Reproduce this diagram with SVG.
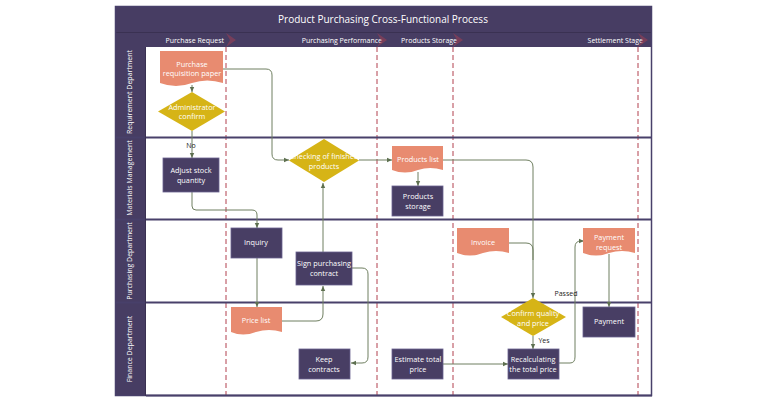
<svg xmlns="http://www.w3.org/2000/svg" width="780" height="407" viewBox="0 0 780 407">
<defs>
<style>
.t{font-family:"Open Sans","DejaVu Sans",sans-serif;fill:#fff;font-size:7.3px;text-anchor:middle}
.h{font-family:"Open Sans","DejaVu Sans",sans-serif;fill:#fff;font-size:7px;text-anchor:end}
.lane{font-family:"Open Sans","DejaVu Sans",sans-serif;fill:#fff;font-size:7px;text-anchor:middle}
.lbl{font-family:"Open Sans","DejaVu Sans",sans-serif;fill:#222;font-size:7px;text-anchor:middle}
.box{fill:#483E64;stroke:#6A6190;stroke-width:0.8}
.doc{fill:#E88B70}
.dia{fill:#D6B416}
.dash{stroke:#B2404F;stroke-width:1;stroke-dasharray:5,3;fill:none}
.ln{stroke:#48406A;stroke-width:2;fill:none}
.c{stroke:#6F7F60;stroke-width:1;fill:none}
.chev{fill:#B2404F;opacity:0.45}
</style>
<marker id="a" markerWidth="6" markerHeight="6" refX="5" refY="3" orient="auto" markerUnits="userSpaceOnUse">
<path d="M0,0.8 L5,3 L0,5.2 Z" fill="#5E7050"/>
</marker>
</defs>
<rect width="780" height="407" fill="#fff"/>
<g id="frame">
<rect x="115" y="6" width="537" height="41" fill="#473D63"/>
<line x1="115" y1="32.5" x2="652" y2="32.5" stroke="#3A3152" stroke-width="1"/>
<rect x="115" y="47" width="31" height="349" fill="#473D63"/>
<rect x="115.5" y="6.5" width="536" height="389" fill="none" stroke="#48406A" stroke-width="1.5"/>
<text x="383" y="23" font-family="'Open Sans','DejaVu Sans',sans-serif" font-size="10" fill="#fff" text-anchor="middle">Product Purchasing Cross-Functional Process</text>
<text class="h" x="224" y="43">Purchase Request</text>
<text class="h" x="382" y="43">Purchasing Performance</text>
<text class="h" x="457" y="43">Products Storage</text>
<text class="h" x="643" y="43">Settlement Stage</text>
<polygon class="chev" points="226,33 236,40 226,47 230,40"/>
<polygon class="chev" points="377,33 387,40 377,47 381,40"/>
<polygon class="chev" points="453,33 463,40 453,47 457,40"/>
<polygon class="chev" points="638,33 648,40 638,47 642,40"/>
<line class="dash" x1="226" y1="47" x2="226" y2="396"/>
<line class="dash" x1="377" y1="47" x2="377" y2="396"/>
<line class="dash" x1="453" y1="47" x2="453" y2="396"/>
<line class="dash" x1="638" y1="47" x2="638" y2="396"/>
<line class="ln" x1="115" y1="137.5" x2="652" y2="137.5"/>
<line class="ln" x1="115" y1="219.5" x2="652" y2="219.5"/>
<line class="ln" x1="115" y1="302.5" x2="652" y2="302.5"/>
<line class="ln" x1="146" y1="395.5" x2="652" y2="395.5"/>
<line x1="145.5" y1="47" x2="145.5" y2="396" stroke="#3A3152" stroke-width="1"/>
<text class="lane" transform="translate(132,92) rotate(-90)">Requirement Department</text>
<text class="lane" transform="translate(132,178) rotate(-90)">Materials Management</text>
<text class="lane" transform="translate(132,261) rotate(-90)">Purchasing Department</text>
<text class="lane" transform="translate(132,349) rotate(-90)">Finance Department</text>
</g>
<g id="connectors">
<path class="c" d="M192,85 V92" marker-end="url(#a)"/>
<path class="c" d="M192,131 V158" marker-end="url(#a)"/>
<path class="c" d="M192,192 V206 Q192,210 196,210 H252 Q257,210 257,215 V228" marker-end="url(#a)"/>
<path class="c" d="M257,258 V307" marker-end="url(#a)"/>
<path class="c" d="M282,321 H316 Q323,321 323,314 V286" marker-end="url(#a)"/>
<path class="c" d="M323,252 V183" marker-end="url(#a)"/>
<path class="c" d="M352,268 H362 Q368,268 368,274 V357 Q368,363 362,363 H351" marker-end="url(#a)"/>
<path class="c" d="M223,69 H266 Q272,69 272,75 V154 Q272,160 278,160 H289" marker-end="url(#a)"/>
<path class="c" d="M359,160 H392" marker-end="url(#a)"/>
<path class="c" d="M418,172 V186" marker-end="url(#a)"/>
<path class="c" d="M443,160 H526 Q533,160 533,167 V298" marker-end="url(#a)"/>
<path class="c" d="M509,243 H526 Q533,243 533,250 V260"/>
<path class="c" d="M609,254 V307" marker-end="url(#a)"/>
<path class="c" d="M533,336 V349" marker-end="url(#a)"/>
<path class="c" d="M443,364 H508" marker-end="url(#a)"/>
<path class="c" d="M559,363 H570 Q575,363 575,357 V247 Q575,241 581,241 H584" marker-end="url(#a)"/>
<text class="lbl" x="191" y="148">No</text>
<text class="lbl" x="544" y="343">Yes</text>
<text class="lbl" x="566" y="296">Passed</text>
</g>
<g id="n1">
<path class="doc" d="M160,51 H223 V83 Q207,78 192,83 Q176,89 160,83 Z"/>
<text class="t" x="192" y="67">Purchase</text>
<text class="t" x="192" y="76">requisition paper</text>
</g>
<g id="n2">
<polygon class="dia" points="192,92 225,111.5 192,131 158,111.5"/>
<text class="t" x="192" y="110">Administrator</text>
<text class="t" x="192" y="119">confirm</text>
</g>
<g id="n3">
<rect class="box" x="163" y="158" width="56" height="34"/>
<text class="t" x="191" y="173">Adjust stock</text>
<text class="t" x="191" y="183">quantity</text>
</g>
<g id="n4">
<rect class="box" x="231" y="228" width="51" height="30"/>
<text class="t" x="256" y="245">Inquiry</text>
</g>
<g id="n5">
<path class="doc" d="M231,307 H282 V332 Q269,328 256,332 Q243,337 231,332 Z"/>
<text class="t" x="256" y="323">Price list</text>
</g>
<g id="n6">
<rect class="box" x="296" y="252" width="56" height="33"/>
<text class="t" x="324" y="266">Sign purchasing</text>
<text class="t" x="324" y="276">contract</text>
</g>
<g id="n7">
<rect class="box" x="299" y="349" width="51" height="30"/>
<text class="t" x="324" y="362">Keep</text>
<text class="t" x="324" y="372">contracts</text>
</g>
<g id="n8">
<polygon class="dia" points="324,139 359,160.5 324,182 289,160.5"/>
<text class="t" x="324" y="159" font-size="8.6">Checking of finished</text>
<text class="t" x="324" y="169" font-size="8.6">products</text>
</g>
<g id="n9">
<path class="doc" d="M392,146 H443 V170 Q430,166 418,170 Q405,175 392,170 Z"/>
<text class="t" x="418" y="162">Products list</text>
</g>
<g id="n10">
<rect class="box" x="392" y="186" width="51" height="30"/>
<text class="t" x="418" y="199">Products</text>
<text class="t" x="418" y="209">storage</text>
</g>
<g id="n11">
<path class="doc" d="M457,228 H509 V253 Q496,249 483,253 Q470,258 457,253 Z"/>
<text class="t" x="483" y="245">Invoice</text>
</g>
<g id="n12">
<path class="doc" d="M583,228 H635 V253 Q622,249 609,253 Q596,258 583,253 Z"/>
<text class="t" x="609" y="240">Payment</text>
<text class="t" x="609" y="250">request</text>
</g>
<g id="n13">
<rect class="box" x="583" y="307" width="52" height="30"/>
<text class="t" x="609" y="324">Payment</text>
</g>
<g id="n14">
<polygon class="dia" points="533,298 566,317 533,336 501,317"/>
<text class="t" x="533" y="316">Confirm quality</text>
<text class="t" x="533" y="326">and price</text>
</g>
<g id="n15">
<rect class="box" x="508" y="349" width="51" height="30"/>
<text class="t" x="533" y="362">Recalculating</text>
<text class="t" x="533" y="372">the total price</text>
</g>
<g id="n16">
<rect class="box" x="392" y="349" width="51" height="30"/>
<text class="t" x="418" y="362">Estimate total</text>
<text class="t" x="418" y="372">price</text>
</g>
</svg>
